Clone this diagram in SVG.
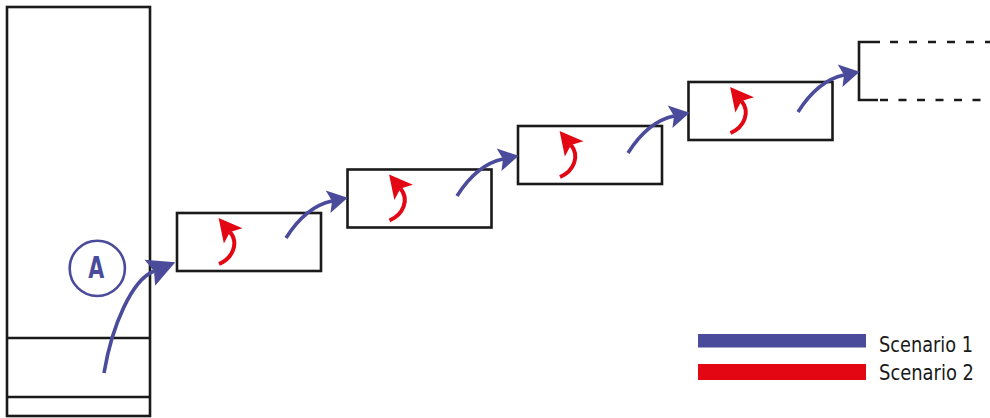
<svg xmlns="http://www.w3.org/2000/svg" width="990" height="418" viewBox="0 0 990 418">
<style>
.box{fill:none;stroke:#1a1a1a;stroke-width:2.6}
.blue{fill:none;stroke:#4b4b9c;stroke-width:3.6}
.red{fill:none;stroke:#e30613;stroke-width:4}
.dash{fill:none;stroke:#1a1a1a;stroke-width:2.6}
.lbl{font-family:"Liberation Sans Narrow","DejaVu Sans Condensed","Liberation Sans",sans-serif;font-stretch:condensed;fill:#1a1a1a}
</style>
<defs>
<marker id="bigBlue" viewBox="-10 -16 40 32" markerWidth="40" markerHeight="32" refX="0" refY="0" orient="auto" markerUnits="userSpaceOnUse">
<path d="M23,0 L-4.5,-14 L0,0 L-4.5,14 Z" fill="#4b4b9c"/>
</marker>
<marker id="blueHead" viewBox="-10 -14 34 28" markerWidth="34" markerHeight="28" refX="0" refY="0" orient="auto" markerUnits="userSpaceOnUse">
<path d="M16,0 L-4,-11.5 L0,0 L-4,11.5 Z" fill="#4b4b9c"/>
</marker>
<marker id="redHead" viewBox="-10 -14 34 28" markerWidth="34" markerHeight="28" refX="0" refY="0" orient="auto" markerUnits="userSpaceOnUse">
<path d="M18,0 L-5,-12 L0,0 L-5,12 Z" fill="#e30613"/>
</marker>
</defs>

<g id="source">
<rect class="box" x="7" y="7" width="143" height="409"/>
<line class="box" x1="7" y1="338" x2="150" y2="338"/>
<line class="box" x1="7" y1="397" x2="150" y2="397"/>
</g>

<g id="labelA">
<circle cx="97.3" cy="268.4" r="27.6" fill="none" stroke="#4b4b9c" stroke-width="2.6"/>
<text x="96.3" y="277.7" text-anchor="middle" font-family="Liberation Sans Narrow,DejaVu Sans Condensed,Liberation Sans,sans-serif" font-size="31" font-weight="bold" fill="#4b4b9c" textLength="16" lengthAdjust="spacingAndGlyphs">A</text>
</g>

<g id="box1"><rect class="box" x="177" y="213" width="144" height="58"/></g>
<g id="box2"><rect class="box" x="347.5" y="169.5" width="144" height="58"/></g>
<g id="box3"><rect class="box" x="518" y="126" width="144" height="58"/></g>
<g id="box4"><rect class="box" x="688.5" y="82" width="144" height="58"/></g>
<g id="box5">
<path class="dash" d="M880,42 H859 V100 H878"/>
<line class="dash" x1="890" y1="42" x2="990" y2="42" stroke-dasharray="8 11"/>
<line class="dash" x1="880" y1="100" x2="990" y2="100" stroke-dasharray="8 10.5"/>
</g>

<g id="connectors">
<path class="blue" stroke-width="4" d="M104,373 C112,325 132,280 154,271" marker-end="url(#bigBlue)"/>
<path class="blue" d="M286,238 c12,-19 27,-33 46,-37" marker-end="url(#blueHead)"/>
<path class="blue" d="M457,196 c12,-19 27,-33 46,-37" marker-end="url(#blueHead)"/>
<path class="blue" d="M628,153 c12,-19 27,-33 46,-37" marker-end="url(#blueHead)"/>
<path class="blue" d="M798,112 c12,-19 27,-33 46,-37" marker-end="url(#blueHead)"/>
<path class="red" d="M219,264 c14,-6 20,-21 11,-32" marker-end="url(#redHead)"/>
<path class="red" d="M389.5,220.5 c14,-6 20,-21 11,-32" marker-end="url(#redHead)"/>
<path class="red" d="M560,177 c14,-6 20,-21 11,-32" marker-end="url(#redHead)"/>
<path class="red" d="M730.5,133 c14,-6 20,-21 11,-32" marker-end="url(#redHead)"/>
</g>

<g id="legend">
<rect x="698" y="334" width="168" height="13.5" fill="#4b4b9c"/>
<rect x="698" y="364" width="168" height="16" fill="#e30613"/>
<text class="lbl" x="879" y="352" font-size="22" textLength="94" lengthAdjust="spacingAndGlyphs">Scenario 1</text>
<text class="lbl" x="879" y="380" font-size="22" textLength="95" lengthAdjust="spacingAndGlyphs">Scenario 2</text>
</g>
</svg>
